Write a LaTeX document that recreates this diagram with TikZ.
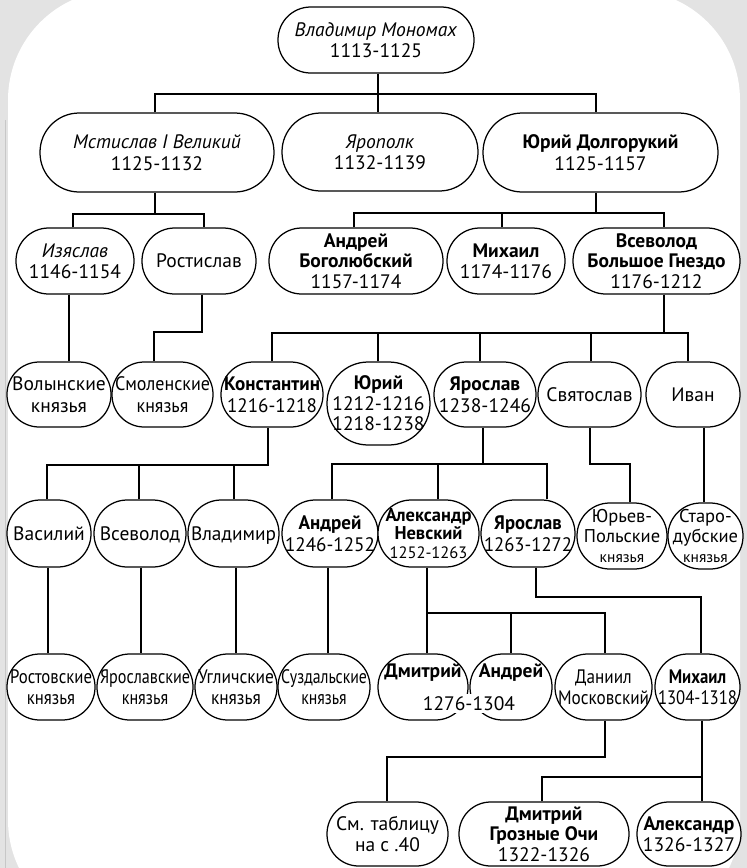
\documentclass[tikz,border=0pt]{standalone}
\usepackage{graphicx}
\usepackage{fontspec}
\setmainfont{PT Sans}
\newsavebox\fitbox
\newcommand\fitto[2]{\sbox\fitbox{\begin{tabular}{@{}c@{}}#2\end{tabular}}%
  \pgfmathsetmacro\fitf{min(1,#1/max(1,\wd\fitbox))}%
  \scalebox{\fitf}[1]{\usebox\fitbox}}
\newcommand\bx[7][]{%
  \pgfmathsetmacro\curmax{#5-#3-6}%
  \node[box, minimum width={#5-#3}, minimum height={#6-#4}, rounded corners={(#6-#4)/2-0.3}] (#2) at ({(#3+#5)/2},{(#4+#6)/2}) {};
  \node[txt,#1] (#2t) at (#2.center) {\fitto{\curmax}{#7}};}
\begin{document}
\begin{tikzpicture}[x=1pt,y=-1pt,
  box/.style={draw, line width=1.25pt, inner sep=0pt, fill=white},
  txt/.style={inner sep=0pt, yshift=-2.5pt, font=\fontsize{19.5}{21.5}\selectfont, text=black},
  three/.style={font=\fontsize{19.5}{20.5}\selectfont},
  ln/.style={line width=1.25pt}]
\useasboundingbox (0,0) rectangle (747,868);
\fill[black!11] (0,0) rectangle (747,868);
\fill[white, rounded corners=110pt] (8,-10) rectangle (740,930);
\draw[black!22, line width=0.8pt] (5,120) -- (5,868);
% buses
\coordinate (b1) at (0,94);
\coordinate (b2) at (0,214);
\coordinate (b3) at (0,213);
\coordinate (b4) at (0,333);
\coordinate (b5) at (0,465);
\coordinate (b6) at (0,464);
\coordinate (b7) at (0,613);
\coordinate (b8) at (0,777);
% row 1
\bx{vm}{278}{7}{474}{73}{\textit{Владимир Мономах}\\1113-1125}
% row 2
\bx{mst}{40}{113}{274}{192}{\textit{Мстислав I Великий}\\1125-1132}
\bx{yar}{282}{113}{478}{191}{\textit{Ярополк}\\1132-1139}
\bx{yud}{483}{113}{718}{192}{\textbf{Юрий Долгорукий}\\1125-1157}
% row 3
\bx{izy}{16}{228}{134}{294}{\textit{Изяслав}\\1146-1154}
\bx{ros}{142}{228}{256}{294}{Ростислав}
\bx[three]{ab}{269}{228}{443}{294}{\textbf{Андрей}\\\textbf{Боголюбский}\\1157-1174}
\bx{mikh}{447}{228}{565}{294}{\textbf{Михаил}\\1174-1176}
\bx[three]{vsev}{573}{228}{740}{294}{\textbf{Всеволод}\\\textbf{Большое Гнездо}\\1176-1212}
% row 4
\bx{vol}{7}{362}{111}{427}{Волынские\\князья}
\bx{smol}{112}{362}{213}{427}{Смоленские\\князья}
\bx{kon}{221}{362}{323}{427}{\textbf{Константин}\\1216-1218}
\bx[three]{yur}{327}{362}{430}{445}{\textbf{Юрий}\\1212-1216\\1218-1238}
\bx{yar2}{434}{362}{536}{427}{\textbf{Ярослав}\\1238-1246}
\bx{svy}{538}{362}{641}{427}{Святослав}
\bx{ivan}{646}{362}{740}{427}{Иван}
% row 5
\bx{vas}{7}{500}{91}{567}{Василий}
\bx{vsv}{94}{500}{186}{567}{Всеволод}
\bx{vla}{188}{500}{279}{567}{Владимир}
\bx{and}{282}{500}{378}{567}{\textbf{Андрей}\\1246-1252}
\bx[font=\fontsize{18.5}{18.5}\selectfont]{alnev}{378}{500}{479}{567}{\textbf{Александр}\\\textbf{Невский}\\{\fontsize{16.5}{18}\selectfont 1252-1263}}
\bx{yar3}{481}{500}{575}{567}{\textbf{Ярослав}\\1263-1272}
\bx[font=\fontsize{18.5}{20}\selectfont]{yurp}{577}{503}{667}{569}{Юрьев-\\Польские\\{\fontsize{15.5}{17}\selectfont князья}}
\bx[font=\fontsize{18.5}{20}\selectfont]{star}{668}{503}{743}{569}{Старо-\\дубские\\{\fontsize{15.5}{17}\selectfont князья}}
% row 6
\bx{rost}{7}{654}{95}{720}{Ростовские\\князья}
\bx{yars}{97}{654}{193}{720}{Ярославские\\князья}
\bx{ugl}{195}{654}{277}{720}{Угличские\\князья}
\bx{suzd}{278}{654}{370}{720}{Суздальские\\князья}
\bx[yshift=16.5pt]{dm}{378}{654}{468}{720}{\textbf{Дмитрий}}
\bx[yshift=16.5pt]{an2}{470}{654}{552}{720}{\textbf{Андрей}}
\node[txt, fill=white, inner xsep=2pt, inner ysep=2pt] (dmdate) at (469,701) {1276-1304};
\bx{dan}{555}{654}{652}{720}{Даниил\\Московский}
\bx{mikh2}{655}{654}{740}{720}{\textbf{Михаил}\\1304-1318}
% row 7
\bx{see}{327}{802}{448}{866}{См. таблицу\\на с .40}
\bx[three]{dgo}{459}{802}{629}{866}{\textbf{Дмитрий}\\\textbf{Грозные Очи}\\1322-1326}
\bx{alex}{637}{802}{741}{866}{\textbf{Александр}\\1326-1327}
% connectors
\draw[ln] (vm.south -| 378,0) -- (yar.north -| 378,0);
\draw[ln] (mst.north -| 155,0) -- (b1 -| 155,0) -- (b1 -| 596,0) -- (yud.north -| 596,0);
\draw[ln] (mst.south -| 155,0) -- (b2 -| 155,0);
\draw[ln] (izy.north -| 73,0) -- (b2 -| 73,0) -- (b2 -| 204,0) -- (ros.north -| 204,0);
\draw[ln] (yud.south -| 596,0) -- (b3 -| 596,0);
\draw[ln] (ab.north -| 354,0) -- (b3 -| 354,0) -- (b3 -| 664,0) -- (vsev.north -| 664,0);
\draw[ln] (mikh.north -| 502,0) -- (b3 -| 502,0);
\draw[ln] (izy.south -| 69,0) -- (vol.north -| 69,0);
\draw[ln] (ros.south -| 202,0) -- (202,332) -- (154,332) -- (smol.north -| 154,0);
\draw[ln] (vsev.south -| 664,0) -- (b4 -| 664,0);
\draw[ln] (kon.north -| 272,0) -- (b4 -| 272,0) -- (b4 -| 688,0) -- (ivan.north -| 688,0);
\draw[ln] (yur.north -| 378,0) -- (b4 -| 378,0);
\draw[ln] (yar2.north -| 480,0) -- (b4 -| 480,0);
\draw[ln] (svy.north -| 591,0) -- (b4 -| 591,0);
\draw[ln] (vas.north -| 47,0) -- (b5 -| 47,0) -- (b5 -| 268,0) -- (kon.south -| 268,0);
\draw[ln] (vsv.north -| 139,0) -- (b5 -| 139,0);
\draw[ln] (vla.north -| 234,0) -- (b5 -| 234,0);
\draw[ln] (yar2.south -| 483,0) -- (b6 -| 483,0);
\draw[ln] (and.north -| 332,0) -- (b6 -| 332,0) -- (b6 -| 547,0) -- (yar3.north -| 547,0);
\draw[ln] (alnev.north -| 438,0) -- (b6 -| 438,0);
\draw[ln] (svy.south -| 590,0) -- (590,464) -- (630,464) -- (yurp.north -| 630,0);
\draw[ln] (ivan.south -| 704,0) -- (star.north -| 704,0);
\draw[ln] (vas.south -| 48,0) -- (rost.north -| 48,0);
\draw[ln] (vsv.south -| 141,0) -- (yars.north -| 141,0);
\draw[ln] (vla.south -| 236,0) -- (ugl.north -| 236,0);
\draw[ln] (and.south -| 328,0) -- (suzd.north -| 328,0);
\draw[ln] (alnev.south -| 427,0) -- (dm.north -| 427,0);
\draw[ln] (b7 -| 427,0) -- (b7 -| 605,0) -- (dan.north -| 605,0);
\draw[ln] (an2.north -| 511,0) -- (b7 -| 511,0);
\draw[ln] (yar3.south -| 536,0) -- (536,597) -- (701,597) -- (mikh2.north -| 701,0);
\draw[ln] (dan.south -| 605,0) -- (605,757) -- (387,757) -- (see.north -| 387,0);
\draw[ln] (mikh2.south -| 702,0) -- (alex.north -| 702,0);
\draw[ln] (dgo.north -| 542,0) -- (b8 -| 542,0) -- (b8 -| 702,0);
\end{tikzpicture}
\end{document}
